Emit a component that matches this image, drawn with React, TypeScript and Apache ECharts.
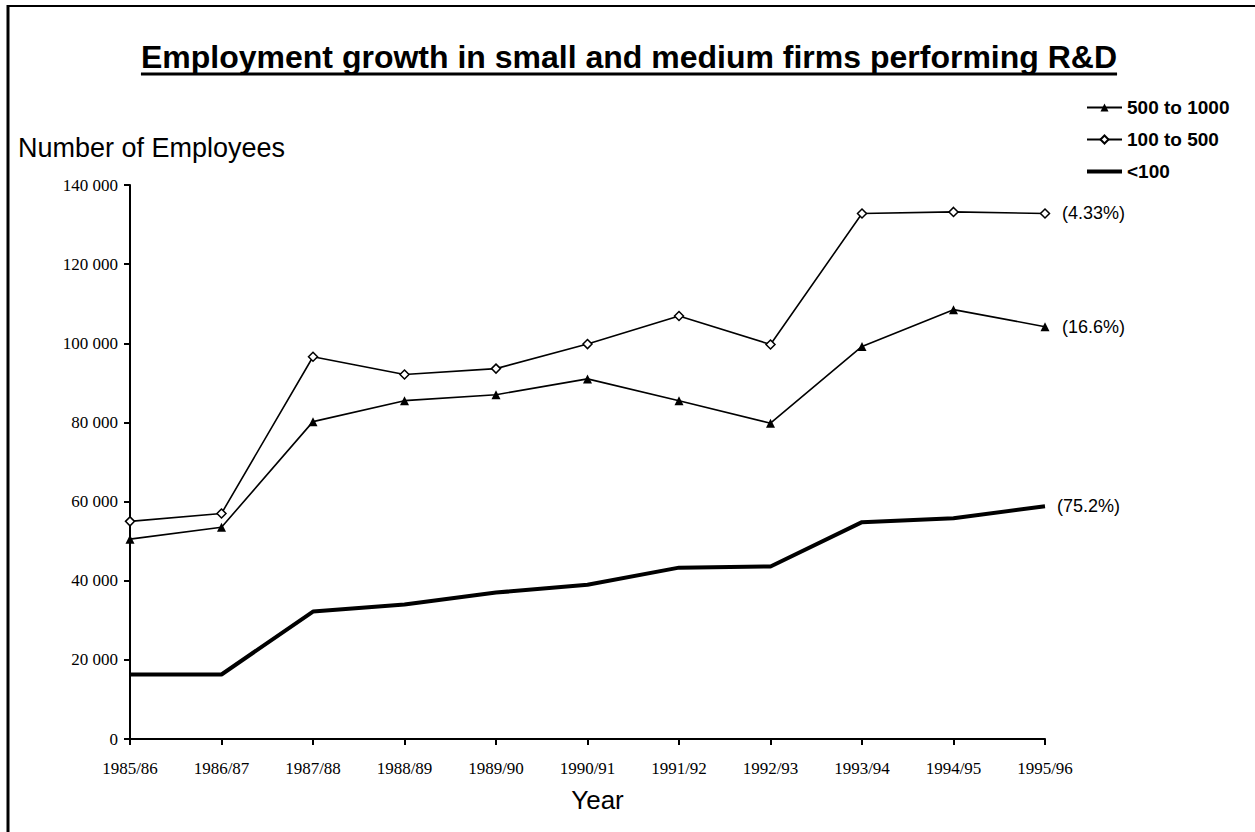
import React, { useEffect, useRef } from "react";
import * as echarts from "echarts";

const years = ["1985/86", "1986/87", "1987/88", "1988/89", "1989/90", "1990/91", "1991/92", "1992/93", "1993/94", "1994/95", "1995/96"];
const firms500to1000 = [50500, 53500, 80200, 85500, 87000, 91000, 85500, 79800, 99200, 108500, 104200];
const firms100to500 = [55000, 57000, 96600, 92100, 93600, 99800, 106900, 99700, 132800, 133200, 132800];
const firmsUnder100 = [16300, 16300, 32200, 34000, 37000, 39000, 43300, 43600, 54800, 55800, 58800];
const seriesNames = ["500 to 1000", "100 to 500", "<100"];
const shareLabels = ["(16.6%)", "(4.33%)", "(75.2%)"];

const TITLE = "Employment growth in small and medium firms performing R&D";
const SANS = "'Liberation Sans', Arial, sans-serif";
const SERIF = "'Liberation Serif', 'Times New Roman', serif";

function measure(text: string, font: string): number {
  const c = document.createElement("canvas").getContext("2d");
  if (!c) return 0;
  c.font = font;
  return c.measureText(text).width;
}

export default function App() {
  const ref = useRef<HTMLDivElement>(null);
  useEffect(() => {
    if (!ref.current) return;
    const chart = echarts.init(ref.current, undefined, { renderer: "svg" });
    const titleFont = `bold 32px ${SANS}`;
    const tw = measure(TITLE, titleFont) || 976;
    const cx = 629;
    const endLabelStyle = { fontFamily: SANS, fontSize: 18, color: "#000" };
    chart.setOption({
      animation: false,
      backgroundColor: "#ffffff",
      graphic: [
        { type: "line", shape: { x1: 8, y1: 6, x2: 1255, y2: 6 }, style: { stroke: "#000", lineWidth: 2 } },
        { type: "line", shape: { x1: 8, y1: 5, x2: 8, y2: 832 }, style: { stroke: "#000", lineWidth: 3 } },
        {
          type: "text", x: cx, y: 57,
          style: { text: TITLE, font: titleFont, fill: "#000", align: "center", verticalAlign: "middle" },
        },
        { type: "line", shape: { x1: cx - tw / 2, y1: 74, x2: cx + tw / 2, y2: 74 }, style: { stroke: "#000", lineWidth: 3 } },
        {
          type: "text", x: 18, y: 148,
          style: { text: "Number of Employees", font: `27px ${SANS}`, fill: "#000", align: "left", verticalAlign: "middle" },
        },
      ],
      legend: {
        orient: "vertical",
        left: 1080,
        top: 93,
        itemWidth: 35,
        itemHeight: 10,
        itemGap: 13,
        data: [
          { name: seriesNames[0] },
          { name: seriesNames[1] },
          { name: seriesNames[2], itemStyle: { opacity: 0 }, lineStyle: { width: 4, color: "#000" } },
        ],
        textStyle: { fontFamily: SANS, fontWeight: "bold", fontSize: 19, color: "#000" },
      },
      grid: { left: 130, right: 210, top: 185, bottom: 93, containLabel: false },
      xAxis: {
        type: "category",
        data: years,
        boundaryGap: false,
        name: "Year",
        nameLocation: "middle",
        nameGap: 48,
        nameTextStyle: { fontFamily: SANS, fontSize: 26, color: "#000", padding: [0, 0, 0, 20] },
        axisLine: { lineStyle: { color: "#000", width: 2 } },
        axisTick: { show: true, length: 6, lineStyle: { color: "#000", width: 2 } },
        axisLabel: { fontFamily: SERIF, fontSize: 17, color: "#000", margin: 21 },
        splitLine: { show: false },
      },
      yAxis: {
        type: "value",
        min: 0,
        max: 140000,
        interval: 20000,
        axisLine: { show: true, lineStyle: { color: "#000", width: 2 } },
        axisTick: { show: true, length: 6, lineStyle: { color: "#000", width: 2 } },
        axisLabel: {
          fontFamily: SERIF, fontSize: 17, color: "#000", margin: 12,
          formatter: (v: number) => String(v).replace(/\B(?=(\d{3})+(?!\d))/g, " "),
        },
        splitLine: { show: false },
      },
      series: [
        {
          name: seriesNames[0],
          type: "line",
          data: firms500to1000,
          symbol: "triangle",
          symbolSize: 9,
          itemStyle: { color: "#000" },
          lineStyle: { color: "#000", width: 1.6 },
          endLabel: { show: true, formatter: shareLabels[0], distance: 17, ...endLabelStyle },
        },
        {
          name: seriesNames[1],
          type: "line",
          data: firms100to500,
          symbol: "diamond",
          symbolSize: 9,
          itemStyle: { color: "#fff", borderColor: "#000", borderWidth: 1.5 },
          lineStyle: { color: "#000", width: 1.6 },
          endLabel: { show: true, formatter: shareLabels[1], distance: 17, ...endLabelStyle },
        },
        {
          name: seriesNames[2],
          type: "line",
          data: firmsUnder100,
          symbol: "none",
          itemStyle: { color: "#000" },
          lineStyle: { color: "#000", width: 4 },
          endLabel: { show: true, formatter: shareLabels[2], distance: 12, ...endLabelStyle },
        },
      ],
    });
    return () => chart.dispose();
  }, []);
  return (
    <div
      ref={ref}
      style={{ position: "absolute", left: 0, top: 0, width: 1255, height: 832, background: "#fff" }}
    />
  );
}
